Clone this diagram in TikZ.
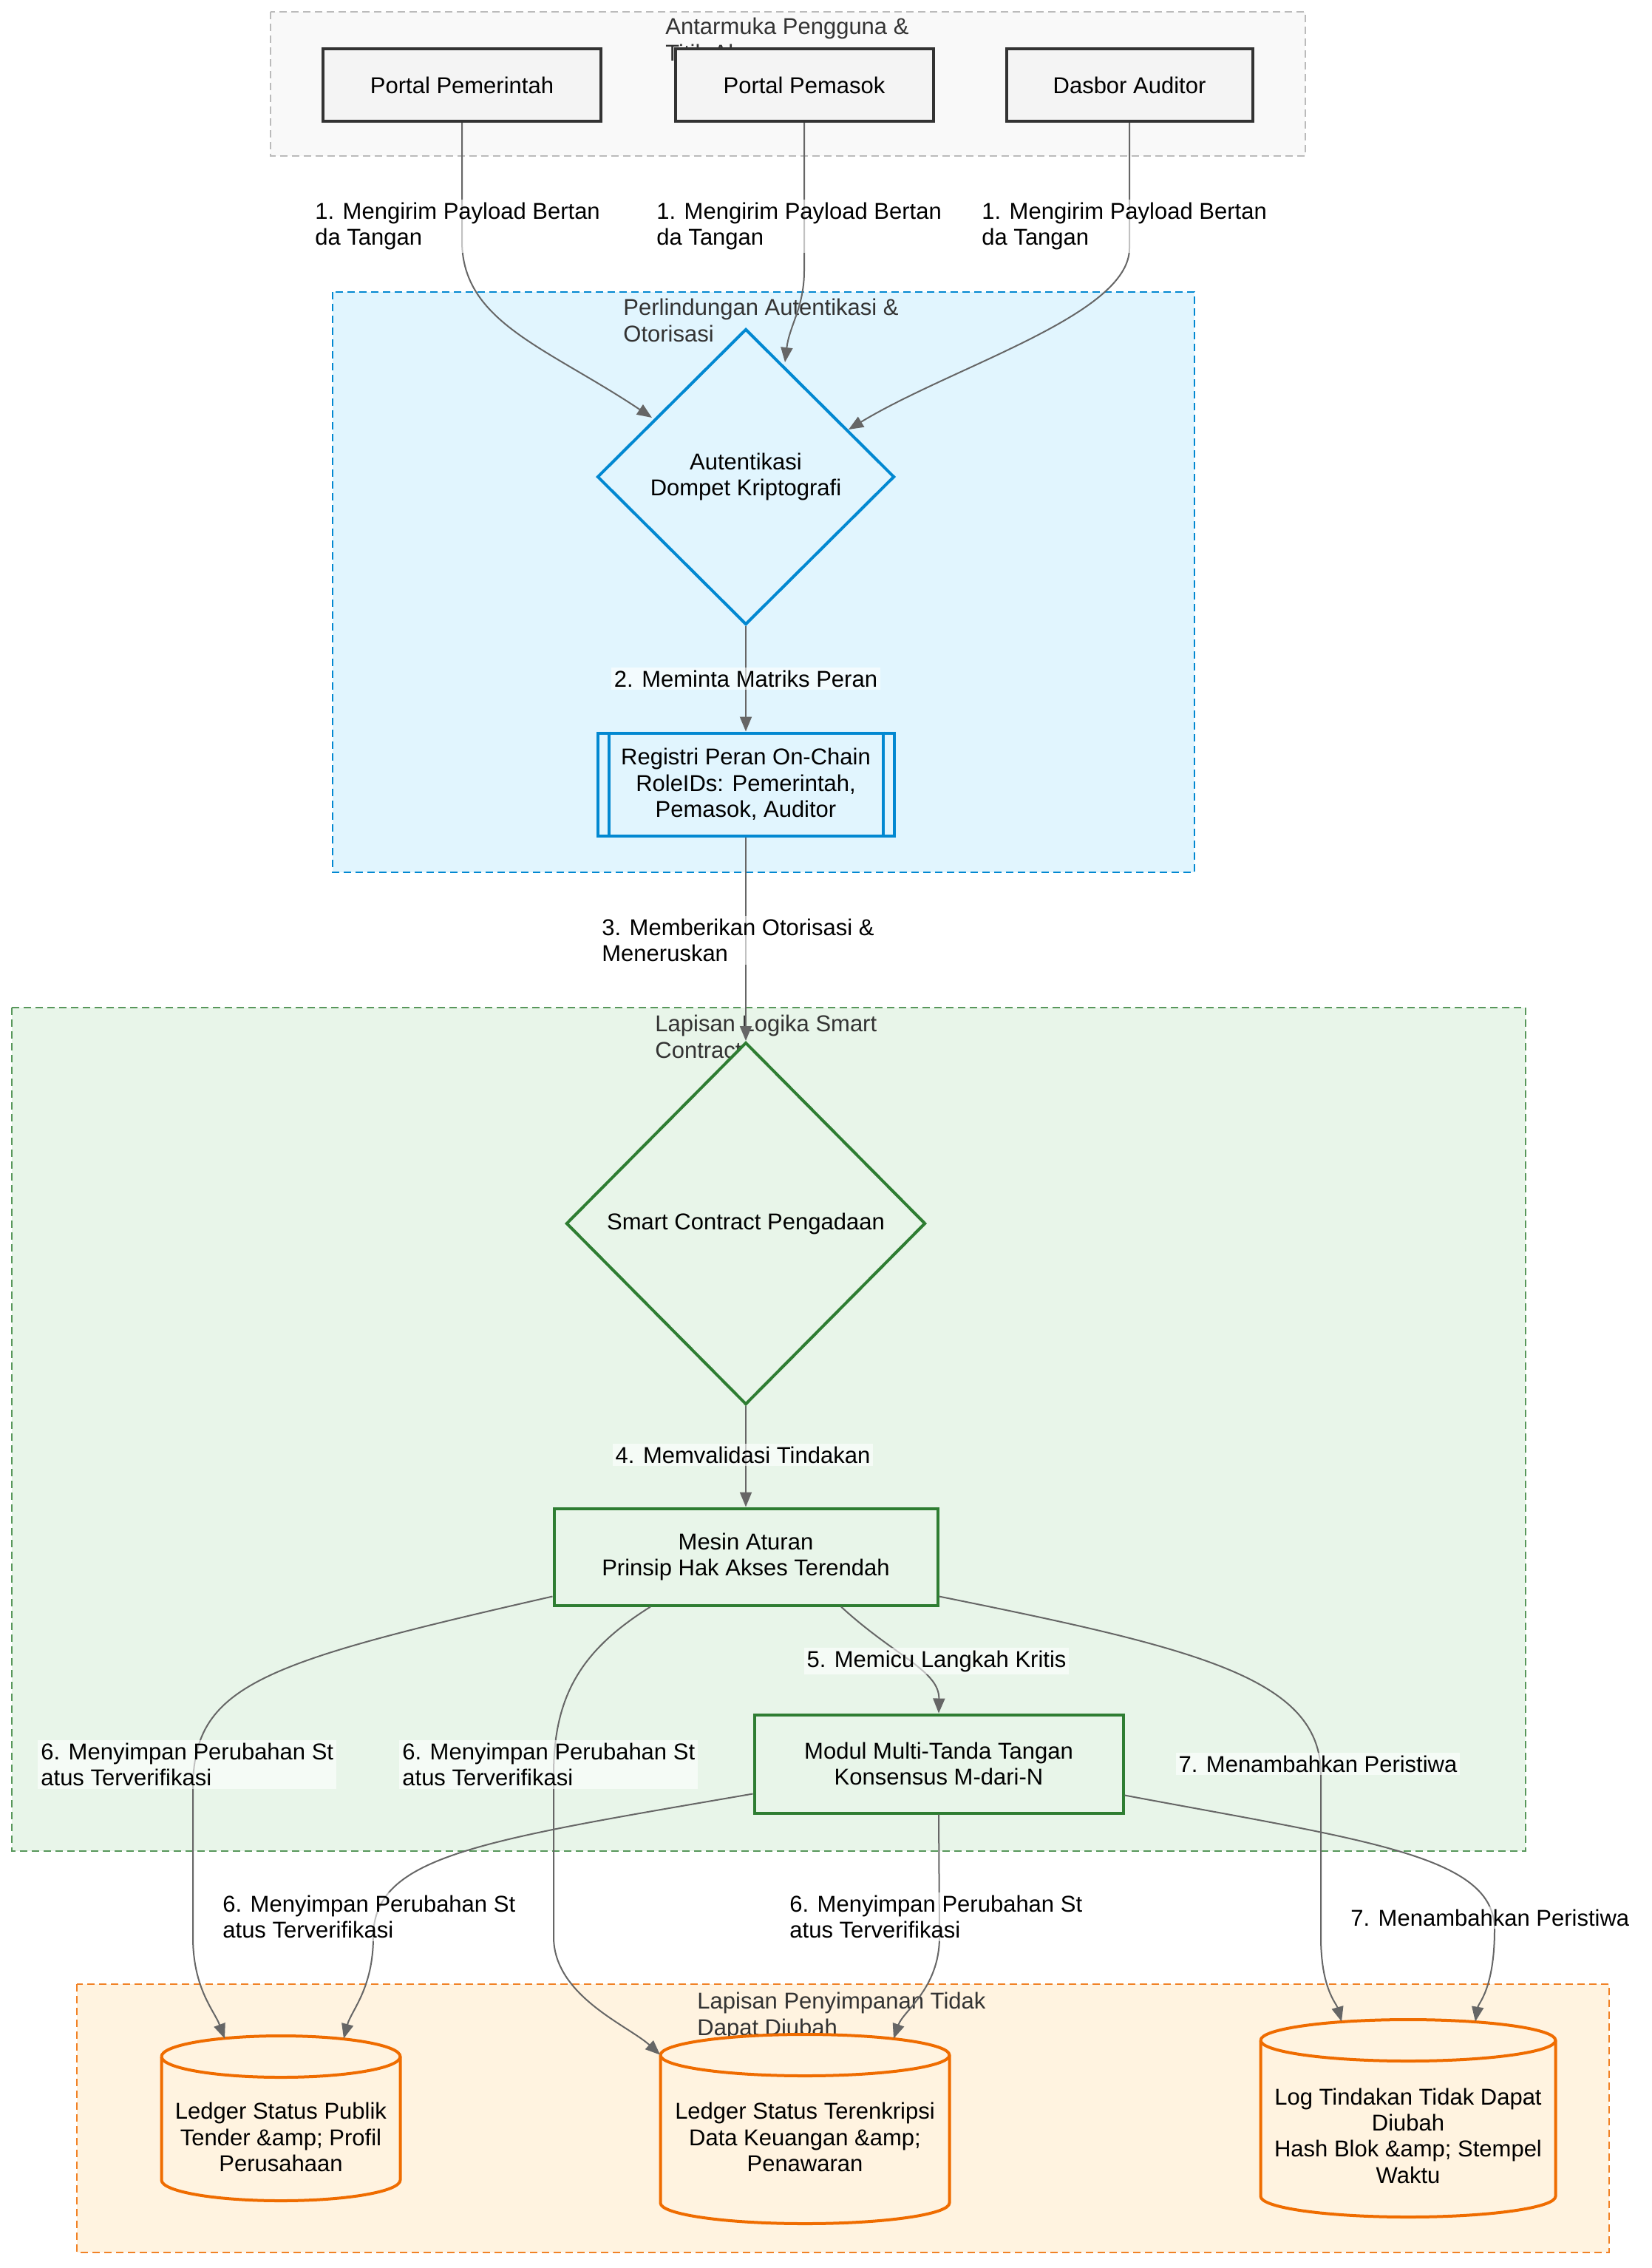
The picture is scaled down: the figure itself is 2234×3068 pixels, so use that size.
\documentclass[tikz,border=0pt]{standalone}
\usepackage{fontspec}
\setmainfont{Liberation Sans}
\usetikzlibrary{shapes.geometric,arrows.meta,calc}
\definecolor{cdark}{HTML}{333333}
\definecolor{cedge}{HTML}{666666}
\definecolor{grayborder}{HTML}{BBBBBB}
\definecolor{grayfill}{HTML}{F9F9F9}
\definecolor{portalfill}{HTML}{F4F4F4}
\definecolor{blueline}{HTML}{0288D1}
\definecolor{bluefill}{HTML}{E1F5FE}
\definecolor{greenline}{HTML}{2E7D32}
\definecolor{greenfill}{HTML}{E8F5E9}
\definecolor{orangeline}{HTML}{EF6C00}
\definecolor{orangefill}{HTML}{FFF3E0}
\tikzset{
  txt/.style={font=\fontsize{15.5pt}{17.7pt}\selectfont},
  portal/.style={txt, draw=cdark, fill=portalfill, line width=2pt, minimum height=49pt, inner sep=0pt, align=center},
  bluediam/.style={txt, diamond, draw=blueline, fill=bluefill, line width=2pt, inner sep=0pt, align=center, minimum width=201pt, minimum height=200pt},
  greendiam/.style={txt, diamond, draw=greenline, fill=greenfill, line width=2pt, inner sep=0pt, align=center, minimum width=243pt, minimum height=245pt},
  subr/.style={txt, draw=blueline, fill=bluefill, line width=2pt, inner sep=0pt, align=center, minimum width=200.5pt, minimum height=69.5pt},
  greenbox/.style={txt, draw=greenline, fill=greenfill, line width=2pt, inner sep=0pt, align=center},
  dbplace/.style={draw=none, inner sep=0pt, rectangle},
  dbtext/.style={txt, align=center, inner sep=0pt},
  cylline/.style={draw=orangeline, line width=2pt},
  clustA/.style={draw=grayborder, fill=grayfill, line width=1pt, dash pattern=on 5pt off 3pt},
  clustB/.style={draw=blueline, fill=bluefill, line width=1pt, dash pattern=on 5pt off 3pt},
  clustC/.style={draw=greenline!80!white, fill=greenfill, line width=1pt, dash pattern=on 5pt off 3pt},
  clustD/.style={draw=orangeline!85!white, fill=orangefill, line width=1pt, dash pattern=on 5pt off 3pt},
  ctitle/.style={txt, text=cdark, align=left, anchor=north west, inner sep=0pt},
  conn/.style={draw=cedge, line width=1pt, -{Triangle[length=10pt,width=8pt]}},
  elabel/.style={txt, fill=white, fill opacity=0.6, text opacity=1, align=left, inner sep=2pt},
}
\begin{document}
\begin{tikzpicture}[x=0.5pt,y=-0.5pt]
\useasboundingbox (0,0) rectangle (2234,3068);
\fill[white] (0,0) rectangle (2234,3068);

% clusters
\draw[clustA] (366,16) rectangle (1766,211);
\draw[clustB] (450,395) rectangle (1616,1180);
\draw[clustC] (16,1363) rectangle (2064,2504);
\draw[clustD] (104,2684) rectangle (2177,3047);

% cluster titles
\node[ctitle] (t1) at (900,24) {Antarmuka Pengguna \&\\Titik Akses};
\node[ctitle] (t2) at (843,404) {Perlindungan Autentikasi \&\\Otorisasi};
\node[ctitle] (t3) at (886,1373) {Lapisan Logika Smart\\Contract};
\node[ctitle] (t4) at (943,2695) {Lapisan Penyimpanan Tidak\\Dapat Diubah};

% nodes
\node[portal, minimum width=188pt] (pp) at (625,115) {Portal Pemerintah};
\node[portal, minimum width=174.5pt] (pm) at (1088,115) {Portal Pemasok};
\node[portal, minimum width=166.5pt] (da) at (1528,115) {Dasbor Auditor};

\node[bluediam] (auth) at (1009,645) {Autentikasi\\Dompet Kriptografi};
\node[subr] (reg) at (1009,1061) {Registri Peran On-Chain\\RoleIDs: Pemerintah,\\Pemasok, Auditor};
\draw[blueline, line width=2pt] ($(reg.north west)+(17,0)$) -- ($(reg.south west)+(17,0)$);
\draw[blueline, line width=2pt] ($(reg.north east)+(-17,0)$) -- ($(reg.south east)+(-17,0)$);

\node[greendiam] (sc) at (1009,1655) {Smart Contract Pengadaan};
\node[greenbox, minimum width=259.5pt, minimum height=65.5pt] (mes) at (1009,2106) {Mesin Aturan\\Prinsip Hak Akses Terendah};
\node[greenbox, minimum width=249.5pt, minimum height=66.5pt] (mod) at (1270,2386) {Modul Multi-Tanda Tangan\\Konsensus M-dari-N};

% cylinders
\path[fill=orangefill] (218.5,2782) -- (218.5,2949) arc[start angle=180,end angle=360,x radius=80.75pt,y radius=14pt] -- (541.5,2782) arc[start angle=0,end angle=180,x radius=80.75pt,y radius=14pt] -- cycle;
\draw[cylline] (218.5,2782) -- (218.5,2949) arc[start angle=180,end angle=360,x radius=80.75pt,y radius=14pt] -- (541.5,2782) arc[start angle=0,end angle=180,x radius=80.75pt,y radius=14pt];
\draw[cylline] (218.5,2782) arc[start angle=180,end angle=360,x radius=80.75pt,y radius=14pt];
\node[dbplace, minimum width=161.5pt, minimum height=111.5pt] (pub) at (380,2865.5) {};
\node[dbtext] (pubtxt) at (380,2891) {Ledger Status Publik\\Tender \&amp; Profil\\Perusahaan};

\path[fill=orangefill] (893.5,2780) -- (893.5,2980) arc[start angle=180,end angle=360,x radius=97.75pt,y radius=14pt] -- (1284.5,2780) arc[start angle=0,end angle=180,x radius=97.75pt,y radius=14pt] -- cycle;
\draw[cylline] (893.5,2780) -- (893.5,2980) arc[start angle=180,end angle=360,x radius=97.75pt,y radius=14pt] -- (1284.5,2780) arc[start angle=0,end angle=180,x radius=97.75pt,y radius=14pt];
\draw[cylline] (893.5,2780) arc[start angle=180,end angle=360,x radius=97.75pt,y radius=14pt];
\node[dbplace, minimum width=195.5pt, minimum height=128pt] (ter) at (1089,2880) {};
\node[dbtext] (tertxt) at (1089,2891) {Ledger Status Terenkripsi\\Data Keuangan \&amp;\\Penawaran};

\path[fill=orangefill] (1705.5,2760) -- (1705.5,2971) arc[start angle=180,end angle=360,x radius=99.75pt,y radius=14pt] -- (2104.5,2760) arc[start angle=0,end angle=180,x radius=99.75pt,y radius=14pt] -- cycle;
\draw[cylline] (1705.5,2760) -- (1705.5,2971) arc[start angle=180,end angle=360,x radius=99.75pt,y radius=14pt] -- (2104.5,2760) arc[start angle=0,end angle=180,x radius=99.75pt,y radius=14pt];
\draw[cylline] (1705.5,2760) arc[start angle=180,end angle=360,x radius=99.75pt,y radius=14pt];
\node[dbplace, minimum width=199.5pt, minimum height=133.5pt] (log) at (1905,2865.5) {};
\node[dbtext] (logtxt) at (1905,2889) {Log Tindakan Tidak Dapat\\Diubah\\Hash Blok \&amp; Stempel\\Waktu};

% connectors
\draw[conn] (pp.south) -- ++(0,160) .. controls +(0,110) and (740,470) .. ($(auth)+(-127,-80)$);
\draw[conn] (pm.south) -- ++(0,200) .. controls +(0,50) and (1068,440) .. ($(auth)+(53,-155)$);
\draw[conn] (da.south) -- ++(0,170) .. controls +(0,90) and (1290,495) .. ($(auth)+(139,-64)$);
\draw[conn] (auth.south) -- (reg.north);
\draw[conn] (reg.south) -- (sc.north);
\draw[conn] (sc.south) -- (mes.north);
\draw[conn] ($(mes.south)+(129,0)$) .. controls (1210,2240) and (1271,2260) .. (mod.north);
\draw[conn] ($(mes.south west)+(0,-14)$) .. controls (350,2250) and (261,2280) .. (261,2420) -- (261,2620) .. controls (261,2690) and (290,2720) .. ($(pub.north)+(-76,4)$);
\draw[conn] ($(mes.south)+(-129,0)$) .. controls (790,2230) and (749,2290) .. (749,2400) -- (749,2620) .. controls (749,2700) and (850,2740) .. ($(ter.north west)+(0,28)$);
\draw[conn] ($(mes.south east)+(0,-14)$) .. controls (1620,2230) and (1787,2270) .. (1787,2400) -- (1787,2620) .. controls (1787,2690) and (1808,2710) .. ($(log.north)+(-90,3)$);
\draw[conn] ($(mod.south west)+(0,-28)$) .. controls (650,2490) and (505,2510) .. (505,2620) .. controls (505,2690) and (475,2720) .. ($(pub.north)+(85,4)$);
\draw[conn] (mod.south) -- (1271,2620) .. controls (1271,2690) and (1222,2720) .. ($(ter.north)+(120,6)$);
\draw[conn] ($(mod.south east)+(0,-26)$) .. controls (1850,2490) and (2022,2510) .. (2022,2610) .. controls (2022,2690) and (2000,2710) .. ($(log.north)+(91,3)$);

% edge labels
\node[elabel, anchor=west] (l1a) at (422,306) {1. Mengirim Payload Bertan\\da Tangan};
\node[elabel, anchor=west] (l1b) at (884,306) {1. Mengirim Payload Bertan\\da Tangan};
\node[elabel, anchor=west] (l1c) at (1324,306) {1. Mengirim Payload Bertan\\da Tangan};
\node[elabel] (l2) at (1009,918) {2. Meminta Matriks Peran};
\node[elabel, anchor=west] (l3) at (810,1272) {3. Memberikan Otorisasi \&\\Meneruskan};
\node[elabel] (l4) at (1005,1968) {4. Memvalidasi Tindakan};
\node[elabel] (l5) at (1267,2247) {5. Memicu Langkah Kritis};
\node[elabel, anchor=west] (l6a) at (51,2387) {6. Menyimpan Perubahan St\\atus Terverifikasi};
\node[elabel, anchor=west] (l6b) at (540,2387) {6. Menyimpan Perubahan St\\atus Terverifikasi};
\node[elabel] (l7a) at (1783,2386) {7. Menambahkan Peristiwa};
\node[elabel, anchor=west] (l6c) at (297,2593) {6. Menyimpan Perubahan St\\atus Terverifikasi};
\node[elabel, anchor=west] (l6d) at (1064,2593) {6. Menyimpan Perubahan St\\atus Terverifikasi};
\node[elabel, anchor=west] (l7b) at (1823,2594) {7. Menambahkan Peristiwa};
\end{tikzpicture}
\end{document}
